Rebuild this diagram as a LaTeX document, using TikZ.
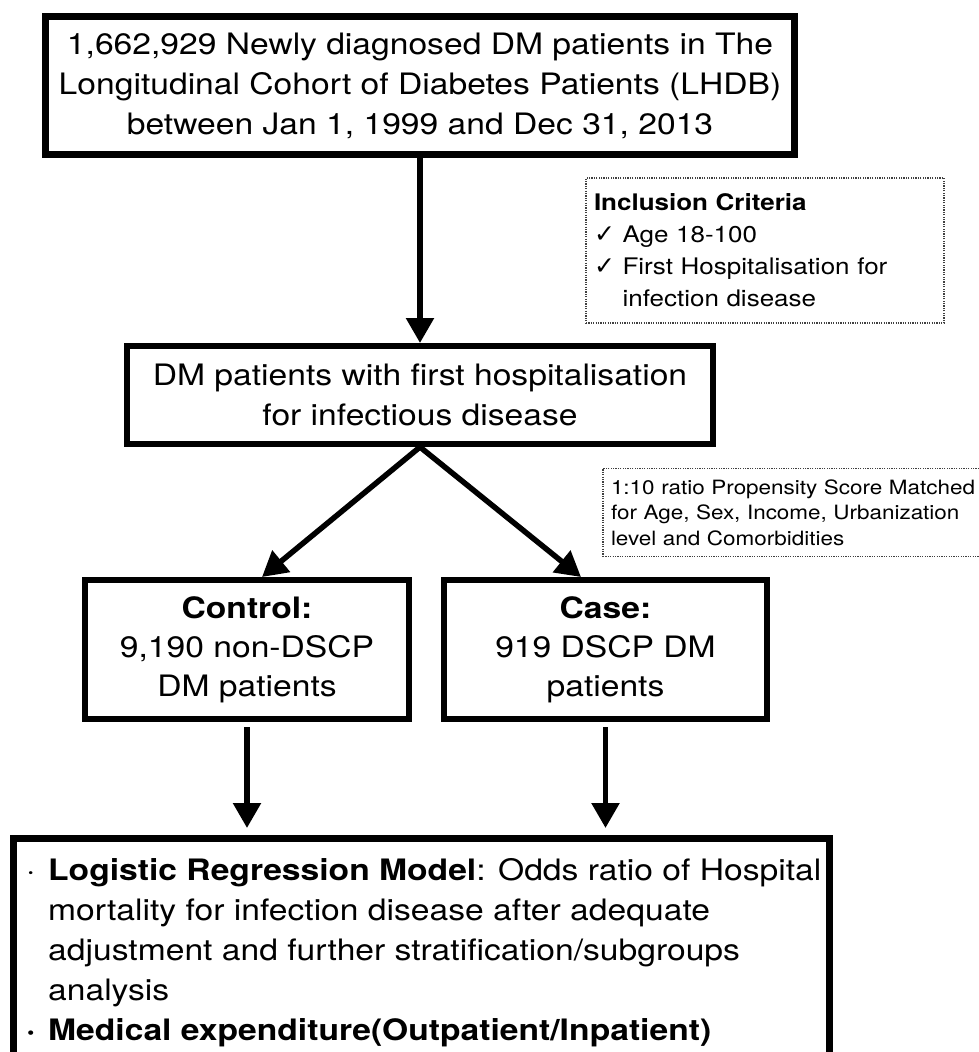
\documentclass[tikz,border=0pt]{standalone}
\usepackage{fontspec}
\setmainfont{TeX Gyre Heros}[FakeStretch=1.14]
\newfontfamily\symfont{DejaVu Sans}
\newcommand{\chk}{{\symfont\fontsize{25}{32}\selectfont ✓}}
\usetikzlibrary{arrows.meta}
\begin{document}
\begin{tikzpicture}[x=1pt,y=-1pt,
  box/.style={draw, line width=6pt, rectangle, align=center, inner sep=0pt,
    font=\fontsize{29.5}{40}\selectfont},
  thickbox/.style={box, line width=7pt},
  smallbox/.style={box, font=\fontsize{29.5}{39}\selectfont},
  notebox/.style={draw=black!75, line width=1.4pt, dash pattern=on 1.2pt off 1.2pt,
    rectangle, inner ysep=0pt, inner xsep=8pt, align=left},
  arr/.style={line width=5.5pt, -{Triangle[length=25pt,width=27pt]}},
]
\useasboundingbox (0,0) rectangle (979,1052);
\clip (0,0) rectangle (979,1052);
\fill[white] (0,0) rectangle (979,1052);

\node[thickbox, minimum width=749pt, minimum height=138pt] (top) at (420,85.5)
  {1,662,929 Newly diagnosed DM patients in The\\Longitudinal Cohort of Diabetes Patients (LHDB)\\between Jan 1, 1999 and Dec 31, 2013};

\node[notebox, minimum width=358pt, minimum height=145pt, text width=342pt,
  font=\fontsize{22.8}{32}\selectfont] (inc) at (765,250.5)
  {\textbf{Inclusion Criteria}\\\chk\ Age 18-100\\\chk\ First Hospitalisation for\\\phantom{\chk\ }infection disease};

\node[box, minimum width=586pt, minimum height=98pt] (dm) at (420,395)
  {DM patients with first hospitalisation\\for infectious disease};

\node[notebox, minimum width=396pt, minimum height=88pt, text width=380pt,
  font=\fontsize{19.7}{25.5}\selectfont] (prop) at (801,512.5)
  {1:10 ratio Propensity Score Matched\\for Age, Sex, Income, Urbanization\\level and Comorbidities};

\node[smallbox, minimum width=324pt, minimum height=139pt] (ctrl) at (247,649.5)
  {\textbf{Control:}\\9,190 non-DSCP\\DM patients};
\node[smallbox, minimum width=323pt, minimum height=139pt] (case) at (605.5,649.5)
  {\textbf{Case:}\\919 DSCP DM\\patients};

\node[thickbox, minimum width=816pt, minimum height=300pt, anchor=north west] (res) at (10,835) {};
\node[anchor=base west, align=left, inner sep=0pt, font=\fontsize{29.5}{40}\selectfont] (restext) at (26,1040)
  {\makebox[22pt][l]{·}\textbf{Logistic Regression Model}: Odds ratio of Hospital\\
   \hspace*{22pt}mortality for infection disease after adequate\\
   \hspace*{22pt}adjustment and further stratification/subgroups\\
   \hspace*{22pt}analysis\\
   \makebox[22pt][l]{\textbf{·}}\textbf{Medical expenditure(Outpatient/Inpatient)}};

\draw[arr] (top.south) -- (dm.north);
\draw[arr] (dm.south) -- ([xshift=15pt]ctrl.north);
\draw[arr] (dm.south) -- ([xshift=-24.5pt]case.north);
\draw[arr, shorten <=5pt, shorten >=7pt] (ctrl.south) -- (ctrl.south |- res.north);
\draw[arr, shorten <=5pt, shorten >=7pt] (case.south) -- (case.south |- res.north);
\end{tikzpicture}
\end{document}
